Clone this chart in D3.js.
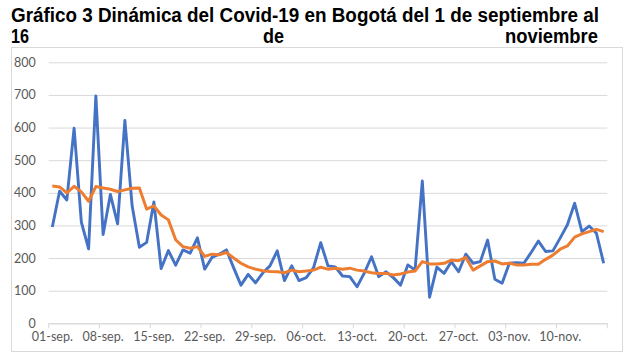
<!DOCTYPE html>
<html><head><meta charset="utf-8">
<script src="https://cdn.jsdelivr.net/npm/d3@7"></script>
<style>body{margin:0;background:#fff}</style>
</head><body><svg id="c" width="637" height="362"></svg>
<script>
const titleLine1 = "Gráfico 3 Dinámica del Covid-19 en Bogotá del 1 de septiembre al";
const titleLine2 = ["16", "de", "noviembre"];
const days = d3.timeDay.range(new Date(2020, 8, 1), new Date(2020, 10, 17));
const daily = [295,405,378,598,310,228,697,272,395,305,622,360,233,248,372,168,223,178,225,215,
  262,166,202,212,225,170,117,150,124,154,176,222,131,176,131,140,170,247,176,173,
  145,143,112,154,204,143,158,140,117,179,163,436,80,172,153,189,158,212,184,189,
  255,135,123,184,186,184,217,252,220,222,261,302,368,281,298,276,184];
const average = [421,418,400,420,403,374,419,415,411,404,409,414,415,350,360,332,317,256,235,230,
  235,205,212,210,217,200,184,173,166,161,159,158,155,163,158,160,163,172,166,169,
  166,169,163,160,155,153,153,148,151,157,160,189,182,182,184,194,192,202,163,176,
  189,191,182,184,179,179,181,181,196,209,227,237,264,274,281,288,281];
const yTicks = [0,100,200,300,400,500,600,700,800];
const xTickLabels = ["01-sep.","08-sep.","15-sep.","22-sep.","29-sep.","06-oct.","13-oct.","20-oct.","27-oct.","03-nov.","10-nov."];

const svg = d3.select("#c");
const L = 48.7, R = 607.3, T = 62.3, B = 323.3;
const txtColor = "#595959", grid = "#d9d9d9";

// chart frame
svg.append("rect").attr("x", 11.5).attr("y", 47.5).attr("width", 611).attr("height", 304)
  .attr("fill", "#fff").attr("stroke", grid).attr("stroke-width", 1);

// title
const tf = "'Liberation Sans', Arial, sans-serif";
svg.append("text").attr("x", 11).attr("y", 22).text(titleLine1)
  .attr("font-family", tf).attr("font-weight", "bold").attr("font-size", 20)
  .attr("textLength", 588).attr("lengthAdjust", "spacingAndGlyphs");
const l2 = svg.append("g").attr("font-family", tf).attr("font-weight", "bold").attr("font-size", 20);
l2.append("text").attr("x", 11).attr("y", 42.5).text(titleLine2[0])
  .attr("textLength", 18).attr("lengthAdjust", "spacingAndGlyphs");
l2.append("text").attr("x", 263).attr("y", 42.5).text(titleLine2[1])
  .attr("textLength", 21).attr("lengthAdjust", "spacingAndGlyphs");
l2.append("text").attr("x", 505).attr("y", 42.5).text(titleLine2[2])
  .attr("textLength", 93).attr("lengthAdjust", "spacingAndGlyphs");

const x = d3.scaleBand().domain(days).range([L, R]).padding(0);
const y = d3.scaleLinear().domain([0, 800]).range([B, T]);
const cx = d => x(d) + x.bandwidth() / 2;

// y axis + gridlines
const ya = svg.append("g").attr("transform", `translate(${L},0)`)
  .call(d3.axisLeft(y).tickValues(yTicks).tickSize(-(R - L)).tickPadding(13));
ya.select(".domain").remove();
ya.selectAll("line").attr("stroke", grid).attr("stroke-width", 1);
ya.selectAll("text").attr("fill", txtColor).attr("font-family", "Lato, 'Open Sans', sans-serif").attr("font-size", 12.5);

// x axis labels
const tickDays = days.filter((d, i) => i % 7 === 0);
const xa = svg.append("g").attr("transform", `translate(0,${B})`)
  .call(d3.axisBottom(x).tickValues(tickDays).tickFormat((d, i) => xTickLabels[i]).tickSize(0).tickPadding(9));
xa.select(".domain").attr("stroke", grid);
xa.selectAll("text").attr("fill", txtColor).attr("font-family", "Lato, 'Open Sans', sans-serif").attr("font-size", 12.5);
// tick marks at category boundaries
const bounds = tickDays.map(d => x(d)).concat([x.range()[1]]);
svg.append("g").selectAll("line").data(bounds).join("line")
  .attr("x1", d => d).attr("x2", d => d).attr("y1", B).attr("y2", B + 5)
  .attr("stroke", grid);

// lines
const lineGen = vals => d3.line().x((d, i) => cx(days[i])).y(d => y(d))(vals);
svg.append("path").attr("d", lineGen(daily)).attr("fill", "none")
  .attr("stroke", "#4472C4").attr("stroke-width", 2.9).attr("stroke-linejoin", "round");
svg.append("path").attr("d", lineGen(average)).attr("fill", "none")
  .attr("stroke", "#ED7D31").attr("stroke-width", 3).attr("stroke-linejoin", "round");
</script></body></html>
